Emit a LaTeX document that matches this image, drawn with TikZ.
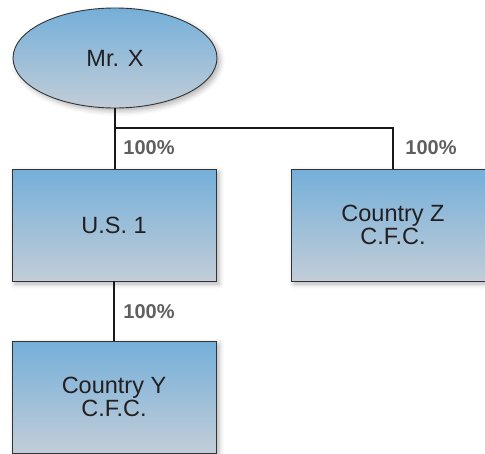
\documentclass[tikz,border=0pt]{standalone}
\usepackage{fontspec}
\setmainfont{Liberation Sans}
\usetikzlibrary{shapes.geometric,shadows.blur}
\definecolor{topblue}{HTML}{74AFD9}
\definecolor{botblue}{HTML}{C2CDD8}
\definecolor{edgecol}{HTML}{333333}
\definecolor{txtcol}{HTML}{231F20}
\definecolor{pctcol}{HTML}{5F5F5F}
\tikzset{
  entity/.style={draw=edgecol, line width=0.9pt, top color=topblue, bottom color=botblue,
    text=txtcol, font=\fontsize{23.5}{21}\selectfont, align=center, inner sep=0pt,
    blur shadow={shadow xshift=3pt, shadow yshift=-3pt, shadow blur radius=5pt, shadow opacity=30}},
  boxnode/.style={entity, rectangle, minimum width=204pt, minimum height=112pt},
  ovalnode/.style={entity, ellipse, minimum width=204pt, minimum height=100pt},
  link/.style={draw=black!90, line width=1.2pt},
  pct/.style={text=pctcol, font=\bfseries\fontsize{20}{20}\selectfont, inner sep=0pt}
}
\begin{document}
\begin{tikzpicture}[x=1pt,y=-1pt]
\useasboundingbox (0,0) rectangle (485,453);
\node[ovalnode] (mrx) at (115,58) {Mr. X};
\node[boxnode] (us1) at (114,225) {U.S. 1};
\node[boxnode] (cz) at (393,225) {Country Z\\C.F.C.};
\node[boxnode] (cy) at (114,397) {Country Y\\C.F.C.};
\coordinate (split) at (115,128);
\draw[link] (mrx.south) -- (split) -- (split -| cz.north) -- (cz.north);
\draw[link] (split) -- (us1.north -| split);
\draw[link] (us1.south) -- (cy.north);
\node[pct] (p1) at (149,148) {100\%};
\node[pct] (p2) at (431,148) {100\%};
\node[pct] (p3) at (149,312) {100\%};
\end{tikzpicture}
\end{document}
